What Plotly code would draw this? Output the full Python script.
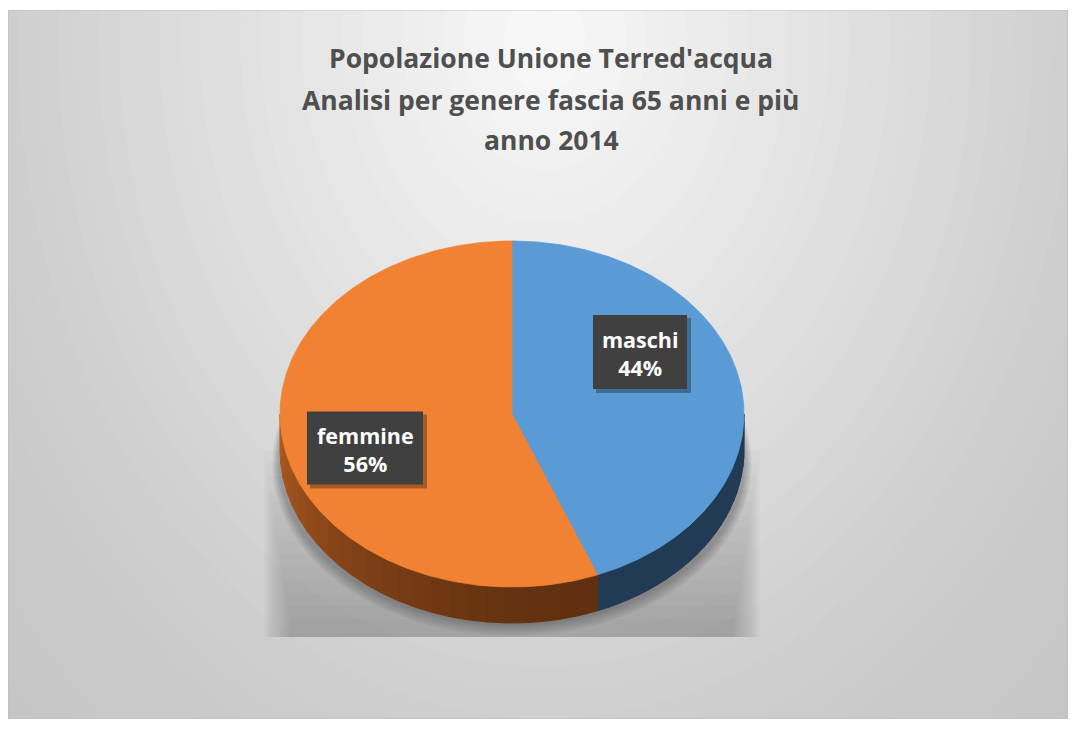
import math
import plotly.graph_objects as go

# ---- data ----
categories = ["maschi", "femmine"]
values = [44, 56]
title_lines = ["Popolazione Unione Terred'acqua",
               "Analisi per genere fascia 65 anni e più",
               "anno 2014"]

# ---- style ----
top_colors = ["#5B9BD5", "#F28233"]
side_dark = [(34, 59, 85), (96, 48, 16)]
side_light = [(34, 59, 85), (176, 92, 32)]
OFF = 8                      # page body margin
W, H = 1077 - OFF, 729 - OFF  # figure size
X0, X1, Y0, Y1 = 8, 1068, 10, 719   # chart frame in page pixels
CX, CY, RX, RY, DEPTH = 512, 414, 232, 173, 36

fig = go.Figure()

def pt(theta, r=1.0, dz=0.0):
    t = math.radians(theta)
    return CX + RX * r * math.sin(t), CY - RY * r * math.cos(t) + dz

def arc(a0, a1, dz=0.0, n=None):
    if n is None:
        n = max(2, int(abs(a1 - a0) * 1.5))
    return [pt(a0 + (a1 - a0) * i / n, 1.0, dz) for i in range(n + 1)]

def poly(points, color, width=0.8):
    xs = [p[0] for p in points] + [points[0][0]]
    ys = [p[1] for p in points] + [points[0][1]]
    fig.add_trace(go.Scatter(x=xs, y=ys, mode="lines", fill="toself",
                             fillcolor=color, line=dict(color=color, width=width),
                             hoverinfo="skip", showlegend=False))

def rgb(c):
    return "rgb(%d,%d,%d)" % c

# background radial gradient (shapes, clipped to plot area)
shapes = []
GX, GY, GRX, GRY = 545, 40, 560, 720
steps = 40
for i in range(steps, 0, -1):
    d = 1.45 * i / steps
    v = 249 - 44 * min(d, 1.0) - 10 * max(0.0, d - 1.0) / 0.45
    v = int(round(v))
    shapes.append(dict(type="circle", xref="x", yref="y", layer="below",
                       x0=GX - GRX * d, x1=GX + GRX * d,
                       y0=GY - GRY * d, y1=GY + GRY * d,
                       fillcolor="rgb(%d,%d,%d)" % (v, v, v), line=dict(width=0)))

# shadow box behind the pie, fading upward and sideways
for k in range(14):
    shapes.append(dict(type="rect", xref="x", yref="y", layer="below",
                       x0=264 + k * 2.0, x1=760 - k * 2.0,
                       y0=450 + k * 13, y1=637,
                       fillcolor="rgba(0,0,0,0.014)", line=dict(width=0)))
# soft shadow right under the pie
for k in range(8):
    grow = 26 - 3 * k
    shapes.append(dict(type="circle", xref="x", yref="y", layer="below",
                       x0=CX - RX - grow * 0.3, x1=CX + RX + grow * 0.3,
                       y0=CY - RY + DEPTH + 20 - grow * 0.2, y1=CY + RY + DEPTH + grow * 0.5,
                       fillcolor="rgba(0,0,0,0.03)", line=dict(width=0)))

# ---- pie geometry from values ----
total = float(sum(values))
angles = []
start = 0.0
for v in values:
    span = 360.0 * v / total
    angles.append((start, start + span))
    start += span

# side faces (front half: 90..270 deg)
for idx, (a0, a1) in enumerate(angles):
    s, e = max(a0, 90.0), min(a1, 270.0)
    if e <= s:
        continue
    nseg = 24
    for j in range(nseg):
        b0 = s + (e - s) * j / nseg
        b1 = s + (e - s) * (j + 1) / nseg
        f = (j + 0.5) / nseg
        c0, c1 = side_dark[idx], side_light[idx]
        fe = f ** 1.6
        col = tuple(int(c0[k] + (c1[k] - c0[k]) * fe) for k in range(3))
        pts = arc(b0, b1, 0, 4) + arc(b1, b0, DEPTH, 4)
        poly(pts, rgb(col), 1.0)

# top faces
for idx, (a0, a1) in enumerate(angles):
    pts = [(CX, CY)] + arc(a0, a1)
    poly(pts, top_colors[idx], 0.8)

# ---- annotations ----
annotations = []
title_y = [58, 100, 140]
for line, yy in zip(title_lines, title_y):
    annotations.append(dict(x=551, y=yy, xref="x", yref="y", text="<b>%s</b>" % line,
                            showarrow=False, xanchor="center", yanchor="middle",
                            font=dict(family="Open Sans", size=26.5, color="#4F4F4F")))

label_pos = [(640, 352), (365, 448)]
box_size = [(94, 74), (116, 73)]
for cat, v, (lx, ly), (bw, bh) in zip(categories, values, label_pos, box_size):
    pct = int(round(100.0 * v / total))
    shapes.append(dict(type="rect", xref="x", yref="y",
                       x0=lx - bw / 2 + 3, x1=lx + bw / 2 + 4,
                       y0=ly - bh / 2 + 3, y1=ly + bh / 2 + 4,
                       fillcolor="rgba(0,0,0,0.30)", line=dict(width=0)))
    shapes.append(dict(type="rect", xref="x", yref="y",
                       x0=lx - bw / 2, x1=lx + bw / 2,
                       y0=ly - bh / 2, y1=ly + bh / 2,
                       fillcolor="#404040", line=dict(width=0)))
    annotations.append(dict(x=lx, y=ly + 1, xref="x", yref="y",
                            text="<b>%s<br>%d%%</b>" % (cat, pct),
                            showarrow=False, align="center",
                            font=dict(family="Open Sans", size=21.5, color="white")))

# chart border
shapes.append(dict(type="rect", xref="x", yref="y", x0=X0, x1=X1, y0=Y0, y1=Y1,
                   line=dict(color="#BFBFBF", width=1.2), fillcolor="rgba(0,0,0,0)"))

fig.update_layout(
    width=W, height=H,
    margin=dict(l=X0 - OFF, r=W - (X1 - OFF), t=Y0 - OFF, b=H - (Y1 - OFF), pad=0),
    paper_bgcolor="white", plot_bgcolor="#cfcfcf",
    xaxis=dict(range=[X0, X1], visible=False, fixedrange=True),
    yaxis=dict(range=[Y1, Y0], visible=False, fixedrange=True),
    shapes=shapes, annotations=annotations,
    showlegend=False,
)

fig.write_html("out.html")
